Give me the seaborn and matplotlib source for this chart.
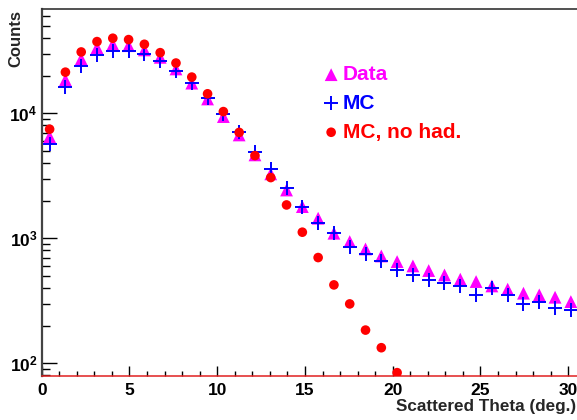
import numpy as np
import pandas as pd
import matplotlib
matplotlib.use("Agg")
import matplotlib.pyplot as plt
import matplotlib.ticker as mticker
import seaborn as sns

# Bin centres of the scattering-angle histogram (0.9 deg bins)
theta = [0.45, 1.35, 2.25, 3.15, 4.05, 4.95, 5.85, 6.75, 7.65, 8.55,
         9.45, 10.35, 11.25, 12.15, 13.05, 13.95, 14.85, 15.75, 16.65, 17.55,
         18.45, 19.35, 20.25, 21.15, 22.05, 22.95, 23.85, 24.75, 25.65, 26.55,
         27.45, 28.35, 29.25, 30.15]

counts_data = [6500, 18500, 27200, 33500, 35600, 34700, 32100, 28000, 22600, 17400,
               13000, 9400, 6700, 4640, 3270, 2430, 1790, 1445, 1096, 939,
               820, 721, 650, 600, 551, 508, 470, 450, 415, 391,
               363, 352, 337, 311]

counts_mc = [5680, 16100, 24000, 29300, 31500, 31500, 29600, 26200, 21800, 17400,
             13300, 9870, 7080, 4870, 3580, 2510, 1770, 1318, 1096, 851,
             748, 652, 558, 508, 463, 436, 415, 348, 398, 348,
             298, 311, 275, 267]

counts_mc_nohad = [7450, 21300, 30900, 37400, 39800, 38800, 35600, 30500, 25200, 19450,
                   14300, 10300, 7020, 4580, 3055, 1845, 1117, 700, 423, 298,
                   184, 133, 84, np.nan, np.nan, np.nan, np.nan, np.nan, np.nan, np.nan,
                   np.nan, np.nan, np.nan, np.nan]

x_ticks = [0, 5, 10, 15, 20, 25, 30]
x_tick_labels = ["0", "5", "10", "15", "20", "25", "30"]
y_ticks = [1e2, 1e3, 1e4]
y_tick_labels = [r"$10^{2}$", r"$10^{3}$", r"$10^{4}$"]

series_labels = ["Data", "MC", "MC, no had."]
series_colors = ["#ff00ff", "#0000ff", "#ff0000"]

df = pd.DataFrame({"theta": theta, "data": counts_data, "mc": counts_mc,
                   "mc_nohad": counts_mc_nohad})

sns.set_style("ticks")
plt.rcParams["font.family"] = ["Liberation Sans", "DejaVu Sans"]
plt.rcParams["font.weight"] = "bold"
plt.rcParams["mathtext.fontset"] = "custom"
plt.rcParams["mathtext.rm"] = "Liberation Sans:bold"
plt.rcParams["mathtext.bf"] = "Liberation Sans:bold"
plt.rcParams["mathtext.it"] = "Liberation Sans:bold"

fig = plt.figure(figsize=(5.77, 4.2), dpi=100)
ax = fig.add_axes([0.0723, 0.1048, 0.9277, 0.8738])

sns.scatterplot(data=df, x="theta", y="data", marker="^", s=85, color=series_colors[0],
                edgecolor="none", linewidth=0, ax=ax, label=series_labels[0], zorder=3)
sns.scatterplot(data=df, x="theta", y="mc", marker="+", s=110, color=series_colors[1],
                linewidth=1.4, ax=ax, label=series_labels[1], zorder=4)
sns.scatterplot(data=df, x="theta", y="mc_nohad", marker="o", s=48, color=series_colors[2],
                edgecolor="none", linewidth=0, ax=ax, label=series_labels[2], zorder=5)

ax.set_yscale("log")
ax.set_xlim(0, 30.5)
ax.set_ylim(79, 68200)

ax.set_xticks(x_ticks)
ax.set_xticklabels(x_tick_labels)
ax.xaxis.set_minor_locator(mticker.MultipleLocator(1))
ax.set_yticks(y_ticks)
ax.set_yticklabels(y_tick_labels)
ax.yaxis.set_minor_locator(mticker.LogLocator(base=10, subs=np.arange(2, 10)))
ax.yaxis.set_minor_formatter(mticker.NullFormatter())

ax.tick_params(axis="x", which="major", direction="in", length=7.2, width=1.0,
               labelsize=12.5, pad=5, colors="black")
ax.tick_params(axis="x", which="minor", direction="in", length=3.4, width=1.0,
               colors="black")
ax.tick_params(axis="y", which="major", direction="in", length=11, width=1.0,
               labelsize=12.5, pad=3, colors="black")
ax.tick_params(axis="y", which="minor", direction="in", length=5.8, width=1.0,
               colors="black")
for lab in ax.get_xticklabels() + ax.get_yticklabels():
    lab.set_fontweight("bold")

ax.spines["right"].set_visible(False)
ax.spines["top"].set_color("#333333")
ax.spines["top"].set_linewidth(1.2)
ax.spines["left"].set_color("#444444")
ax.spines["left"].set_linewidth(1.6)
ax.spines["bottom"].set_color("#e02020")
ax.spines["bottom"].set_linewidth(1.1)

ax.set_xlabel("Scattered Theta (deg.)", fontsize=12.3, fontweight="bold", loc="right")
ax.xaxis.set_label_coords(0.998, -0.063)
ax.set_ylabel("Counts", fontsize=12, fontweight="bold", loc="top")
ax.yaxis.set_label_coords(-0.035, 0.997)

leg = ax.legend(loc="upper left", bbox_to_anchor=(0.529, 0.847), frameon=False,
                borderpad=0, borderaxespad=0, handlelength=0.6, handletextpad=0.25,
                labelspacing=0.47, prop={"weight": "bold", "size": 15},
                labelcolor=series_colors)

fig.savefig("out.png", dpi=100)
